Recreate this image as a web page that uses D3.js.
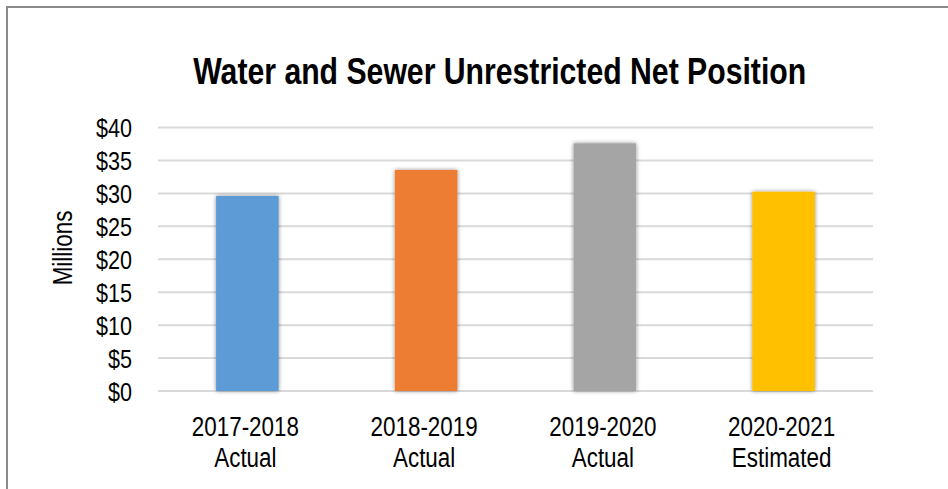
<!DOCTYPE html>
<html>
<head>
<meta charset="utf-8">
<script src="https://cdn.jsdelivr.net/npm/d3@7"></script>
<style>
  html, body { margin: 0; padding: 0; background: #fff; }
  svg { display: block; }
  text { font-family: "Liberation Sans", Arial, sans-serif; fill: #000; }
</style>
</head>
<body>
<svg id="chart" width="948" height="489"></svg>
<script>
const categories = ["2017-2018|Actual", "2018-2019|Actual", "2019-2020|Actual", "2020-2021|Estimated"];
const values = [29.6, 33.55, 37.6, 30.25];
const colors = ["#5B9BD5", "#ED7D31", "#A5A5A5", "#FFC000"];
const yTicks = [0, 5, 10, 15, 20, 25, 30, 35, 40];
const titleText = "Water and Sewer Unrestricted Net Position";
const yAxisTitle = "Millions";

const svg = d3.select("#chart");

// shadow filter
const defs = svg.append("defs");
const f = defs.append("filter").attr("id", "shadow")
  .attr("x", "-30%").attr("y", "-10%").attr("width", "160%").attr("height", "120%");
f.append("feDropShadow").attr("dx", 0).attr("dy", 0).attr("stdDeviation", 2.2)
  .attr("flood-color", "#000").attr("flood-opacity", 0.45);

// outer frame
svg.append("rect").attr("x", 7).attr("y", 7).attr("width", 1000).attr("height", 600)
  .attr("fill", "none").attr("stroke", "#8a8a8a").attr("stroke-width", 2);

const x = d3.scaleBand().domain(categories).range([158, 873]).paddingInner(0.65).paddingOuter(0.325);
const y = d3.scaleLinear().domain([0, 40]).range([391, 127.5]);

function condense(sel, ratio) {
  sel.each(function() {
    const w = this.getComputedTextLength();
    d3.select(this).attr("textLength", w * ratio).attr("lengthAdjust", "spacingAndGlyphs");
  });
}

// y axis labels
const yAxis = d3.axisLeft(y).tickValues(yTicks).tickSize(0).tickPadding(26)
  .tickFormat(d => "$" + d);
const gy = svg.append("g").attr("transform", "translate(158,0)").call(yAxis);
gy.select(".domain").remove();
gy.selectAll("text").attr("font-size", 26).attr("dy", "0.35em")
  .style("font-family", "'Liberation Sans', Arial, sans-serif").attr("fill", "#000");
condense(gy.selectAll("text"), 0.83);

// gridlines
svg.append("g").selectAll("line").data(yTicks).join("line")
  .attr("x1", 158).attr("x2", 873)
  .attr("y1", d => y(d)).attr("y2", d => y(d))
  .attr("stroke", "#d9d9d9").attr("stroke-width", 2);

// bars
svg.append("g").selectAll("rect").data(values).join("rect")
  .attr("x", (d, i) => x(categories[i]))
  .attr("width", x.bandwidth())
  .attr("y", d => y(d))
  .attr("height", d => y(0) - y(d))
  .attr("fill", (d, i) => colors[i])
  .attr("filter", "url(#shadow)");

// category labels
const xl = svg.append("g").selectAll("text").data(categories).join("text")
  .attr("text-anchor", "middle")
  .attr("font-size", 27)
  .attr("transform", d => `translate(${x(d) + x.bandwidth() / 2 - 2},0)`);
xl.each(function(d) {
  const parts = d.split("|");
  const t = d3.select(this);
  t.append("tspan").attr("x", 0).attr("y", 436).text(parts[0]);
  t.append("tspan").attr("x", 0).attr("y", 466.5).text(parts[1]);
});
xl.selectAll("tspan").each(function() {
  const w = this.getComputedTextLength();
  d3.select(this).attr("textLength", w * 0.83).attr("lengthAdjust", "spacingAndGlyphs");
});

// y axis title
const yt = svg.append("text")
  .attr("transform", "translate(71.5,248) rotate(-90)")
  .attr("text-anchor", "middle")
  .attr("font-size", 27)
  .text(yAxisTitle);
condense(yt, 0.83);

// title
const tt = svg.append("text")
  .attr("x", 499.7).attr("y", 83.5)
  .attr("text-anchor", "middle")
  .attr("font-size", 37).attr("font-weight", "bold")
  .text(titleText);
condense(tt, 0.816);
</script>
</body>
</html>
